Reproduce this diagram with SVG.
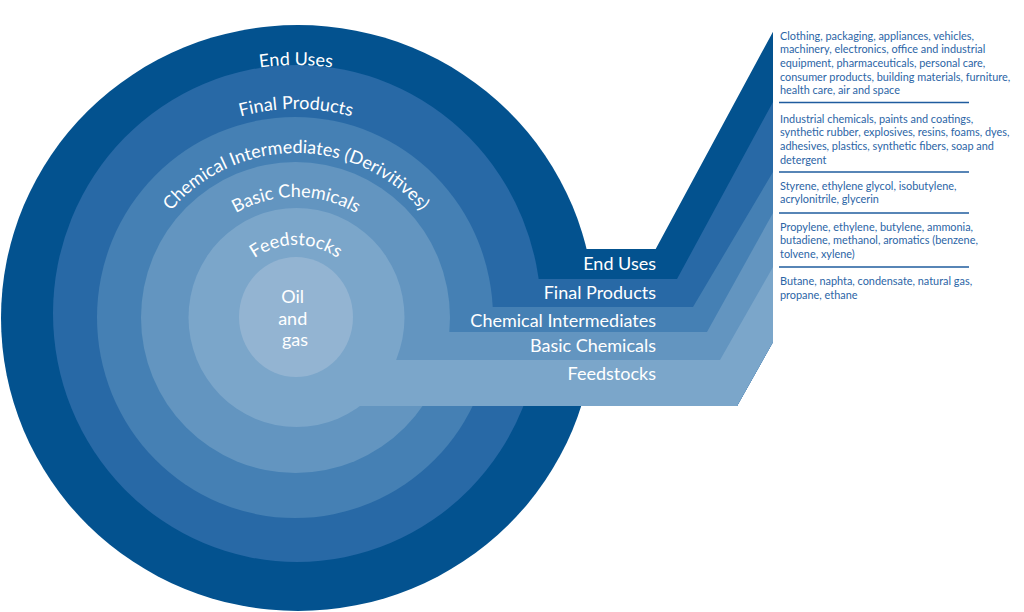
<svg xmlns="http://www.w3.org/2000/svg" width="1024" height="612" viewBox="0 0 1024 612">
  <defs>
    <style>
      .lbl { font-family: Lato, "Source Sans Pro", "Liberation Sans", sans-serif; font-size: 18px; fill: #ffffff; }
      .desc { font-family: Lato, "Liberation Sans", sans-serif; font-size: 10.9px; fill: #2b65a6; }
      .sep { stroke: #1f5c9e; stroke-width: 1.3; fill: none; }
      .c1 { fill: #03528f; }
      .c2 { fill: #2869a6; }
      .c3 { fill: #4580b4; }
      .c4 { fill: #6395c0; }
      .c5 { fill: #7ba6ca; }
      .c6 { fill: #93b4d2; }
    </style>
    <path id="arc1" d="M 44 317 A 252 252 0 0 1 548 317"/>
    <path id="arc2" d="M 88 317 A 208 208 0 0 1 504 317"/>
    <path id="arc3" d="M 132 317 A 164 164 0 0 1 460 317"/>
    <path id="arc4" d="M 176 317 A 120 120 0 0 1 416 317"/>
    <path id="arc5" d="M 224 317 A 72 72 0 0 1 368 317"/>
  </defs>
  <rect width="1024" height="612" fill="#ffffff"/>

  <g id="end-uses">
    <ellipse class="c1" cx="298" cy="318" rx="297" ry="293"/>
    <path class="c1" d="M 298 249 H 655.7 L 773 31.7 V 342 L 737 406 H 298 Z"/>
  </g>
  <g id="final-products">
    <ellipse class="c2" cx="297" cy="313.5" rx="244" ry="248.5"/>
    <path class="c2" d="M 298 279 H 677 L 773 102 V 342 L 737 406 H 298 Z"/>
  </g>
  <g id="chemical-intermediates">
    <ellipse class="c3" cx="295" cy="317.5" rx="198" ry="200.5"/>
    <path class="c3" d="M 298 307 H 693 L 773 172 V 342 L 737 406 H 298 Z"/>
  </g>
  <g id="basic-chemicals">
    <ellipse class="c4" cx="295.5" cy="317.5" rx="154.5" ry="155.5"/>
    <path class="c4" d="M 298 332 H 707 L 773 213 V 342 L 737 406 H 298 Z"/>
  </g>
  <g id="feedstocks">
    <ellipse class="c5" cx="296.5" cy="317.5" rx="108" ry="109.5"/>
    <path class="c5" d="M 298 360 H 720 L 773 267 V 342 L 737 406 H 298 Z"/>
  </g>
  <g id="oil-and-gas">
    <ellipse class="c6" cx="296" cy="317" rx="57" ry="60"/>
    <text class="lbl" text-anchor="middle">
      <tspan x="295" y="303">Oil</tspan>
      <tspan x="295" y="324.5">and</tspan>
      <tspan x="295" y="346">gas</tspan>
    </text>
  </g>

  <g id="ring-labels">
    <text class="lbl"><textPath href="#arc1" startOffset="50%" text-anchor="middle">End Uses</textPath></text>
    <text class="lbl"><textPath href="#arc2" startOffset="50%" text-anchor="middle">Final Products</textPath></text>
    <text class="lbl"><textPath href="#arc3" startOffset="50%" text-anchor="middle">Chemical Intermediates (Derivitives)</textPath></text>
    <text class="lbl"><textPath href="#arc4" startOffset="50%" text-anchor="middle">Basic Chemicals</textPath></text>
    <text class="lbl"><textPath href="#arc5" startOffset="50%" text-anchor="middle">Feedstocks</textPath></text>
  </g>

  <g id="band-labels" text-anchor="end">
    <text class="lbl" x="656" y="270">End Uses</text>
    <text class="lbl" x="656" y="299">Final Products</text>
    <text class="lbl" x="656" y="326.5">Chemical Intermediates</text>
    <text class="lbl" x="656" y="352">Basic Chemicals</text>
    <text class="lbl" x="656" y="380">Feedstocks</text>
  </g>

  <g id="desc-end-uses">
    <text class="desc" x="780" y="39.5">Clothing, packaging, appliances, vehicles,</text>
    <text class="desc" x="780" y="53">machinery, electronics, office and industrial</text>
    <text class="desc" x="780" y="66.5">equipment, pharmaceuticals, personal care,</text>
    <text class="desc" x="780" y="80.5">consumer products, building materials, furniture,</text>
    <text class="desc" x="780" y="94">health care, air and space</text>
  </g>
  <g id="desc-final-products">
    <text class="desc" x="780" y="122.5">Industrial chemicals, paints and coatings,</text>
    <text class="desc" x="780" y="136">synthetic rubber, explosives, resins, foams, dyes,</text>
    <text class="desc" x="780" y="150">adhesives, plastics, synthetic fibers, soap and</text>
    <text class="desc" x="780" y="163.5">detergent</text>
  </g>
  <g id="desc-chemical-intermediates">
    <text class="desc" x="780" y="189.5">Styrene, ethylene glycol, isobutylene,</text>
    <text class="desc" x="780" y="203">acrylonitrile, glycerin</text>
  </g>
  <g id="desc-basic-chemicals">
    <text class="desc" x="780" y="230.5">Propylene, ethylene, butylene, ammonia,</text>
    <text class="desc" x="780" y="244">butadiene, methanol, aromatics (benzene,</text>
    <text class="desc" x="780" y="258">tolvene, xylene)</text>
  </g>
  <g id="desc-feedstocks">
    <text class="desc" x="780" y="284.5">Butane, naphta, condensate, natural gas,</text>
    <text class="desc" x="780" y="298.5">propane, ethane</text>
  </g>

  <g id="connectors">
    <line class="sep" x1="779" y1="102.5" x2="969" y2="102.5"/>
    <line class="sep" x1="779" y1="172" x2="969" y2="172"/>
    <line class="sep" x1="779" y1="213" x2="969" y2="213"/>
    <line class="sep" x1="779" y1="267" x2="969" y2="267"/>
  </g>
</svg>
